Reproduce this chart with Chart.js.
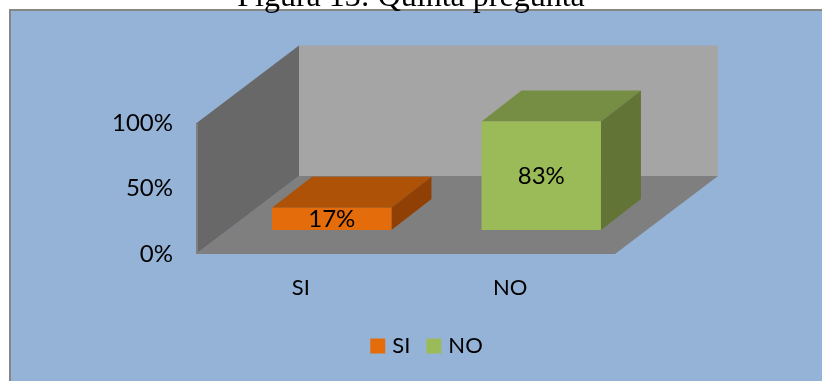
<!DOCTYPE html>
<html>
<head>
<meta charset="utf-8">
<title>Figura 13</title>
<script src="https://cdn.jsdelivr.net/npm/chart.js@4"></script>
<style>
    html, body { margin: 0; padding: 0; background: #fff; overflow: hidden; }
    #wrap { width: 822px; height: 381px; }
</style>
</head>
<body>
<div id="wrap"><canvas id="grafico"></canvas></div>
<script>
// Datos
const categorias = ['SI', 'NO'];
const valores = [17, 83];
const marcasEjeY = [0, 50, 100];
const tituloFigura = 'Figura 13: Quinta pregunta';

const coloresBarra = ['#E46C0A', '#9BBB59'];
const coloresTecho = ['#AE5207', '#768E44'];
const coloresLado = ['#904004', '#627537'];

const FUENTE = 'Lato, sans-serif';

// Profundidad de la caja 3D y de cada barra, en pixeles
const caja = { dx: 103, dy: -78 };
const barra = { dx: 40, dy: -31 };
const desplazo = { dx: 31, dy: -24 };

function poligono(ctx, color, puntos) {
    ctx.fillStyle = color;
    ctx.beginPath();
    puntos.forEach((p, i) => i ? ctx.lineTo(p[0], p[1]) : ctx.moveTo(p[0], p[1]));
    ctx.closePath();
    ctx.fill();
}

// Fondo azul con marco, y la caja gris detras de las barras
const fondo3d = {
    id: 'fondo3d',
    beforeDraw(chart) {
        const ctx = chart.ctx;
        ctx.save();
        ctx.fillStyle = '#95B3D7';
        ctx.fillRect(10, 10, chart.width - 10, chart.height - 10);
        ctx.fillStyle = '#868686';
        ctx.fillRect(9, 9, chart.width - 9, 2);
        ctx.fillRect(9, 9, 2, chart.height - 9);
        ctx.restore();
    },
    afterLayout(chart) {
        // titulo y leyenda no siguen al area de trazado
        chart.titleBlock.left = 0;
        chart.titleBlock.right = chart.width;
        chart.titleBlock.top = -22;
        chart.legend.left = 35;
        chart.legend.right = chart.width;
    },
    beforeDatasetsDraw(chart) {
        const ctx = chart.ctx;
        const { left, right, top, bottom } = chart.chartArea;
        const d = caja;
        ctx.save();
        poligono(ctx, '#A5A5A5', [[left + d.dx, top + d.dy], [right + d.dx, top + d.dy], [right + d.dx, bottom + d.dy], [left + d.dx, bottom + d.dy]]);
        poligono(ctx, '#7F7F7F', [[left, bottom], [right, bottom], [right + d.dx, bottom + d.dy], [left + d.dx, bottom + d.dy]]);
        poligono(ctx, '#686868', [[left, top], [left + d.dx, top + d.dy], [left + d.dx, bottom + d.dy], [left, bottom]]);
        ctx.fillStyle = '#7F7F7F';
        ctx.fillRect(left, top, 2, bottom - top);

        // las barras se dibujan en medio de la caja
        ctx.translate(desplazo.dx, desplazo.dy);
        chart.getDatasetMeta(0).data.forEach((el, i) => {
            const { x, y, base, width } = el.getProps(['x', 'y', 'base', 'width'], true);
            const l = x - width / 2, r = x + width / 2;
            poligono(ctx, coloresTecho[i], [[l, y], [r, y], [r + barra.dx, y + barra.dy], [l + barra.dx, y + barra.dy]]);
            poligono(ctx, coloresLado[i], [[r, y], [r + barra.dx, y + barra.dy], [r + barra.dx, base + barra.dy], [r, base]]);
        });
    },
    afterDatasetsDraw(chart) {
        const ctx = chart.ctx;
        ctx.fillStyle = '#000';
        ctx.font = '24px ' + FUENTE;
        ctx.textAlign = 'center';
        ctx.textBaseline = 'middle';
        chart.getDatasetMeta(0).data.forEach((el, i) => {
            const { x, y, base } = el.getProps(['x', 'y', 'base'], true);
            ctx.fillText(valores[i] + '%', x, (y + base) / 2);
        });
        ctx.restore();
    }
};

new Chart(document.getElementById('grafico'), {
    type: 'bar',
    data: {
        labels: categorias,
        datasets: [{
            data: valores,
            backgroundColor: coloresBarra,
            borderWidth: 0,
            barPercentage: 1,
            categoryPercentage: 0.57
        }]
    },
    plugins: [fondo3d],
    options: {
        responsive: true,
        maintainAspectRatio: false,
        animation: false,
        events: [],
        layout: { padding: { left: 0, right: 207, top: 85, bottom: 14 } },
        plugins: {
            tooltip: { enabled: false },
            title: {
                display: true,
                text: tituloFigura,
                color: '#000',
                font: { family: '"Liberation Serif", serif', size: 32, weight: 'normal', lineHeight: 1.2 },
                padding: 0
            },
            legend: {
                position: 'bottom',
                labels: {
                    color: '#000',
                    font: { family: FUENTE, size: 22 },
                    // cuadro de 7 con trazo de 8: se ve de 15 y el texto queda mas cerca
                    boxWidth: 7,
                    boxHeight: 7,
                    padding: 20,
                    generateLabels: () => categorias.map((c, i) => ({
                        text: c, fillStyle: coloresBarra[i], lineWidth: 8, strokeStyle: coloresBarra[i], index: i
                    }))
                }
            }
        },
        scales: {
            x: {
                grid: { display: false },
                border: { display: false },
                ticks: { color: '#000', font: { family: FUENTE, size: 22 }, padding: 13, maxRotation: 0 },
                afterFit(scale) { scale.height = 61; }
            },
            y: {
                min: 0,
                max: 100,
                afterBuildTicks(scale) { scale.ticks = marcasEjeY.map(v => ({ value: v })); },
                grid: { display: false },
                border: { display: false },
                ticks: {
                    color: '#000',
                    font: { family: FUENTE, size: 24 },
                    padding: 15,
                    callback: v => v + '%'
                },
                afterFit(scale) { scale.width = 196; }
            }
        }
    }
});
</script>
</body>
</html>
